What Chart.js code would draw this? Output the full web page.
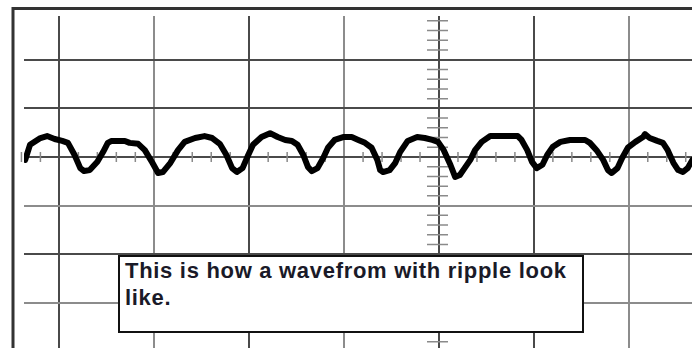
<!DOCTYPE html>
<html>
<head>
<meta charset="utf-8">
<script src="https://cdn.jsdelivr.net/npm/chart.js@4/dist/chart.umd.min.js"></script>
<style>
    body { margin: 0; background: #fff; }
    #wrap { position: relative; width: 692px; height: 348px; overflow: hidden; }
    #scope { position: absolute; left: 0; top: 0; }
    #note {
        position: absolute; left: 118px; top: 255px; width: 462px; height: 74px;
        border: 2px solid #111; background: #fff; box-sizing: content-box;
        font: bold 22px "Liberation Sans", Arial, sans-serif; line-height: 27px;
        letter-spacing: 0.7px; color: #1a1a28; padding-left: 5px; width: 457px;
    }
</style>
</head>
<body>
<div id="wrap">
    <canvas id="scope" width="692" height="348"></canvas>
    <div id="note">This is how a wavefrom with ripple look<br>like.</div>
</div>
<script>
// waveform, in screen divisions (x: time div, y: volts div)
const timeDiv = [-4.36, -4.31, -4.20, -4.13, -4.05, -3.97, -3.91, -3.84, -3.78, -3.74,
    -3.68, -3.60, -3.54, -3.49, -3.45, -3.31, -3.26, -3.17, -3.10, -3.02,
    -2.96, -2.91, -2.83, -2.75, -2.68, -2.57, -2.47, -2.39, -2.31, -2.24,
    -2.18, -2.13, -2.07, -2.01, -1.96, -1.87, -1.78, -1.70, -1.62, -1.55,
    -1.49, -1.43, -1.38, -1.34, -1.28, -1.22, -1.17, -1.10, -1.01, -0.92,
    -0.85, -0.78, -0.71, -0.65, -0.62, -0.59, -0.52, -0.46, -0.41, -0.33,
    -0.23, -0.15, -0.07, -0.01, 0.05, 0.12, 0.17, 0.22, 0.27, 0.33,
    0.38, 0.45, 0.54, 0.83, 0.87, 0.93, 0.98, 1.03, 1.09, 1.14,
    1.20, 1.28, 1.38, 1.54, 1.59, 1.66, 1.73, 1.78, 1.82, 1.88,
    1.93, 1.99, 2.07, 2.15, 2.17, 2.22, 2.30, 2.36, 2.41, 2.47,
    2.52, 2.57, 2.62, 2.67];
const voltDiv = [-0.06, 0.25, 0.39, 0.43, 0.37, 0.33, 0.29, 0.04, -0.23, -0.29,
    -0.27, -0.10, 0.10, 0.29, 0.33, 0.33, 0.29, 0.27, 0.14, -0.12,
    -0.33, -0.31, -0.12, 0.14, 0.31, 0.39, 0.43, 0.39, 0.27, 0.04,
    -0.23, -0.31, -0.23, 0.04, 0.25, 0.41, 0.49, 0.41, 0.35, 0.33,
    0.25, 0.04, -0.21, -0.29, -0.23, -0.02, 0.19, 0.35, 0.41, 0.41,
    0.35, 0.29, 0.19, -0.06, -0.27, -0.31, -0.27, -0.12, 0.10, 0.33,
    0.41, 0.39, 0.35, 0.31, 0.14, -0.16, -0.41, -0.37, -0.23, -0.06,
    0.14, 0.31, 0.43, 0.43, 0.35, 0.14, -0.10, -0.23, -0.16, 0.04,
    0.21, 0.31, 0.35, 0.35, 0.29, 0.14, -0.06, -0.27, -0.33, -0.23,
    -0.02, 0.19, 0.31, 0.41, 0.47, 0.39, 0.33, 0.29, 0.14, -0.12,
    -0.27, -0.31, -0.23, -0.06];

// graticule
const xGrid = [-4, -3, -2, -1, 0, 1, 2];
const yGrid = [2, 1, 0, -1, -2, -3];
const darkX = [-4, -2, 0, 1];
const darkY = [2, 1, 0, -2];

const points = timeDiv.map((t, i) => ({ x: t, y: voltDiv[i] }));

// outer frame + minor ticks on the centre axes
const scopePlugin = {
    id: 'scope',
    beforeDraw(chart) {
        const ctx = chart.ctx;
        const a = chart.chartArea;
        ctx.save();
        ctx.strokeStyle = '#333';
        ctx.lineWidth = 3;
        ctx.beginPath();
        ctx.moveTo(a.left - 11, chart.height);
        ctx.lineTo(a.left - 11, a.top - 7.5);
        ctx.lineTo(chart.width, a.top - 7.5);
        ctx.stroke();
        ctx.restore();
    },
    beforeDatasetsDraw(chart) {
        const ctx = chart.ctx;
        const xs = chart.scales.x;
        const ys = chart.scales.y;
        const x0 = xs.getPixelForValue(0);
        const y0 = ys.getPixelForValue(0);
        ctx.save();
        ctx.strokeStyle = '#8a8a8a';
        ctx.lineWidth = 1.5;
        ctx.beginPath();
        for (let k = -22; k <= 14; k++) {
            if (k % 5 === 0) continue;
            const px = xs.getPixelForValue(k / 5);
            ctx.moveTo(px, y0 - 5);
            ctx.lineTo(px, y0 + 5);
        }
        for (let k = -20; k <= 14; k++) {
            if (k % 5 === 0) continue;
            const py = ys.getPixelForValue(k / 5);
            ctx.moveTo(x0 - 12, py);
            ctx.lineTo(x0 + 9, py);
        }
        ctx.stroke();
        ctx.restore();
    }
};

new Chart(document.getElementById('scope'), {
    type: 'line',
    data: {
        datasets: [{
            data: points,
            borderColor: '#000',
            borderWidth: 6,
            pointRadius: 0,
            tension: 0,
            borderJoinStyle: 'round',
            borderCapStyle: 'round'
        }]
    },
    options: {
        responsive: false,
        animation: false,
        layout: { padding: { left: 24, top: 16, right: 0, bottom: 0 } },
        plugins: { legend: { display: false }, tooltip: { enabled: false } },
        scales: {
            x: {
                type: 'linear',
                min: -4.373,
                max: 2.666,
                afterBuildTicks: s => { s.ticks = xGrid.map(v => ({ value: v })); },
                ticks: { display: false },
                border: { display: false },
                grid: {
                    drawTicks: false,
                    lineWidth: 2,
                    color: c => darkX.includes(c.tick && c.tick.value) ? '#4a4a4a' : '#8c8c8c'
                }
            },
            y: {
                type: 'linear',
                min: -3.93,
                max: 2.90,
                afterBuildTicks: s => { s.ticks = yGrid.map(v => ({ value: v })); },
                ticks: { display: false },
                border: { display: false },
                grid: {
                    drawTicks: false,
                    lineWidth: 2,
                    color: c => darkY.includes(c.tick && c.tick.value) ? '#4a4a4a' : '#8c8c8c'
                }
            }
        }
    },
    plugins: [scopePlugin]
});
</script>
</body>
</html>
